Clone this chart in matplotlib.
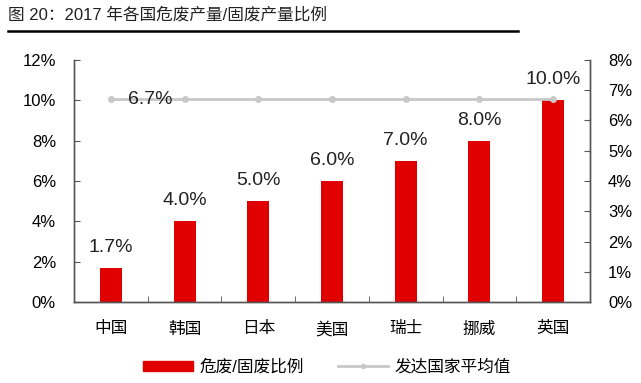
import matplotlib
matplotlib.use("Agg")
import matplotlib.pyplot as plt
from matplotlib.ticker import FuncFormatter, FixedLocator
from matplotlib.lines import Line2D
from matplotlib.patches import Patch

plt.rcParams['font.family'] = ['Liberation Sans', 'Noto Sans CJK SC', 'DejaVu Sans']

categories = ['中国', '韩国', '日本', '美国', '瑞士', '挪威', '英国']
ratio = [1.7, 4.0, 5.0, 6.0, 7.0, 8.0, 10.0]
avg = [6.7, 6.7, 6.7, 6.7, 6.7, 6.7, 6.7]
avg_label = 6.7
title = '图 20：2017 年各国危废产量/固废产量比例'

fig = plt.figure(figsize=(6.41, 3.83), dpi=100)
ax = fig.add_axes([74/641, 81/383, 516/641, 242/383])
ax2 = ax.twinx()

x = list(range(len(categories)))
ax.bar(x, ratio, width=0.3, color='#E00000', zorder=2)
for xi, v in zip(x, ratio):
    ax.text(xi, v + 0.6, f'{v:.1f}%', ha='center', va='bottom', fontsize=14, color='#222222')

ax2.plot(x, avg, color='#C8C8C8', lw=2, marker='o', ms=4, zorder=3)
ax2.text(x[0] + 0.54, avg_label, f'{avg_label:.1f}%', ha='center', va='center', fontsize=14, color='#222222')

ax.set_xlim(-0.5, len(categories) - 0.5)
ax.set_ylim(0, 12)
ax2.set_ylim(0, 8)
ax.set_yticks(range(0, 13, 2))
ax2.set_yticks(range(0, 9, 1))
ax.yaxis.set_major_formatter(FuncFormatter(lambda v, p: f'{v:.0f}%'))
ax2.yaxis.set_major_formatter(FuncFormatter(lambda v, p: f'{v:.0f}%'))
ax.set_xticks(x)
ax.set_xticklabels(categories)
ax.xaxis.set_minor_locator(FixedLocator([i + 0.5 for i in range(-1, len(categories))]))
ax.tick_params(axis='x', which='major', length=0, pad=14, labelsize=12)
ax.tick_params(axis='x', which='minor', length=4, direction='in', color='#555555')
ax.tick_params(axis='y', direction='in', length=4, labelsize=12, color='#555555', pad=13)
ax2.tick_params(axis='y', direction='in', length=4, labelsize=12, color='#555555', pad=13)
for a in (ax, ax2):
    a.spines['top'].set_visible(False)
    for s in ('left', 'right', 'bottom'):
        a.spines[s].set_color('#555555')
        a.spines[s].set_linewidth(1)

handles = [Patch(color='#E00000'), Line2D([], [], color='#C8C8C8', lw=2, marker='o', ms=3)]
fig.legend(handles, ['危废/固废比例', '发达国家平均值'], loc='center', bbox_to_anchor=(0.51, 16/383),
           ncol=2, frameon=False, fontsize=12, handlelength=3.0, columnspacing=2.0, handleheight=0.5,
           handletextpad=0.4)

fig.text(8/641, 1 - 15/383, title, fontsize=12, va='center', ha='left', color='#222222')
fig.add_artist(Line2D([8/641, 518/641], [1 - 31/383, 1 - 31/383], color='black', lw=1.8))

fig.savefig('out.png', dpi=100)
